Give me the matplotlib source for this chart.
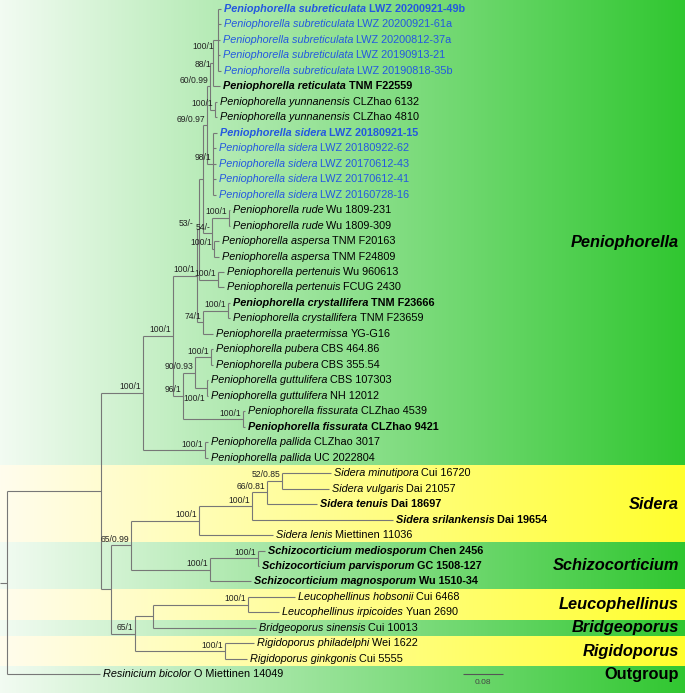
import numpy as np
import matplotlib.pyplot as plt

plt.rcParams['font.family'] = ['Liberation Sans', 'DejaVu Sans']

# ---- internal nodes (parents listed before children), branch lengths in substitutions/site ----
node_id = ['root', 'I', 'P', 'Q', 'R', 'S53', 'X', 'T', 'A60', 'N88', 'SUB', 'YUN', 'SID',
           'N54', 'RUDE', 'ASP', 'PERT', 'N74', 'CRY', 'N96', 'N90', 'PUB', 'GUT', 'FIS', 'PAL',
           'N111', 'N65', 'SIDr', 'N100', 'N66', 'N52', 'SCH', 'MP', 'N65b', 'NLB', 'LEU', 'RIG']
node_parent = [None, 'root', 'I', 'P', 'Q', 'R', 'S53', 'X', 'T', 'A60', 'N88', 'A60', 'T',
               'X', 'N54', 'N54', 'S53', 'R', 'N74', 'Q', 'N96', 'N90', 'N90', 'N96', 'P',
               'I', 'N111', 'N65', 'SIDr', 'N100', 'N66', 'N65', 'SCH', 'N111', 'N65b', 'NLB', 'N65b']
node_len = [0.014, 0.188, 0.084, 0.060, 0.048, 0.004, 0.008, 0.008, 0.006, 0.006, 0.010, 0.010, 0.012,
            0.018, 0.034, 0.004, 0.038, 0.012, 0.050, 0.020, 0.024, 0.032, 0.024, 0.120, 0.124,
            0.020, 0.040, 0.136, 0.106, 0.030, 0.030, 0.158, 0.096, 0.048, 0.036, 0.190, 0.180]
node_support = ['', '', '100/1', '100/1', '100/1', '53/-', '', '69/0.97', '60/0.99', '88/1', '100/1', '100/1', '98/1',
                '54/-', '100/1', '100/1', '100/1', '74/1', '100/1', '96/1', '90/0.93', '100/1', '100/1', '100/1', '100/1',
                '', '65/0.99', '100/1', '100/1', '66/0.81', '52/0.85', '100/1', '100/1', '65/1', '', '100/1', '100/1']

# ---- tips, top to bottom ----
tip_genus = (['Peniophorella'] * 30 + ['Sidera'] * 5 + ['Schizocorticium'] * 3 +
             ['Leucophellinus'] * 2 + ['Bridgeoporus'] + ['Rigidoporus'] * 2 + ['Resinicium'])
tip_epithet = (['subreticulata'] * 5 + ['reticulata'] + ['yunnanensis'] * 2 + ['sidera'] * 5 +
               ['rude'] * 2 + ['aspersa'] * 2 + ['pertenuis'] * 2 + ['crystallifera'] * 2 +
               ['praetermissa'] + ['pubera'] * 2 + ['guttulifera'] * 2 + ['fissurata'] * 2 + ['pallida'] * 2 +
               ['minutipora', 'vulgaris', 'tenuis', 'srilankensis', 'lenis', 'mediosporum', 'parvisporum',
                'magnosporum', 'hobsonii', 'irpicoides', 'sinensis', 'philadelphi', 'ginkgonis', 'bicolor'])
tip_voucher = ['LWZ 20200921-49b', 'LWZ 20200921-61a', 'LWZ 20200812-37a', 'LWZ 20190913-21',
               'LWZ 20190818-35b', 'TNM F22559', 'CLZhao 6132', 'CLZhao 4810', 'LWZ 20180921-15',
               'LWZ 20180922-62', 'LWZ 20170612-43', 'LWZ 20170612-41', 'LWZ 20160728-16',
               'Wu 1809-231', 'Wu 1809-309', 'TNM F20163', 'TNM F24809', 'Wu 960613', 'FCUG 2430',
               'TNM F23666', 'TNM F23659', 'YG-G16', 'CBS 464.86', 'CBS 355.54', 'CBS 107303',
               'NH 12012', 'CLZhao 4539', 'CLZhao 9421', 'CLZhao 3017', 'UC 2022804',
               'Cui 16720', 'Dai 21057', 'Dai 18697', 'Dai 19654', 'Miettinen 11036',
               'Chen 2456', 'GC 1508-127', 'Wu 1510-34', 'Cui 6468', 'Yuan 2690', 'Cui 10013',
               'Wei 1622', 'Cui 5555', 'O Miettinen 14049']
tip_parent = ['SUB'] * 5 + ['N88'] + ['YUN'] * 2 + ['SID'] * 5 + ['RUDE'] * 2 + ['ASP'] * 2 + \
             ['PERT'] * 2 + ['CRY'] * 2 + ['N74'] + ['PUB'] * 2 + ['GUT'] * 2 + ['FIS'] * 2 + ['PAL'] * 2 + \
             ['N52', 'N52', 'N66', 'N100', 'SIDr', 'MP', 'MP', 'SCH', 'LEU', 'LEU', 'NLB', 'RIG', 'RIG', 'root']
tip_len = [0.006, 0.006, 0.004, 0.004, 0.006, 0.014, 0.004, 0.004, 0.008, 0.006, 0.006, 0.006, 0.006,
           0.002, 0.002, 0.010, 0.010, 0.012, 0.012, 0.004, 0.004, 0.020, 0.004, 0.004, 0.002, 0.002,
           0.004, 0.004, 0.006, 0.006, 0.098, 0.094, 0.100, 0.282, 0.148, 0.014, 0.002, 0.082,
           0.094, 0.062, 0.206, 0.058, 0.044, 0.186]
bold_tips = [0, 5, 8, 19, 27, 32, 33, 35, 36, 37]
blue_tips = [0, 1, 2, 3, 4, 8, 9, 10, 11, 12]

# ---- clade bands ----
group_name = ['Peniophorella', 'Sidera', 'Schizocorticium', 'Leucophellinus', 'Bridgeoporus', 'Rigidoporus', 'Outgroup']
group_first = [0, 30, 35, 38, 40, 41, 43]
group_last = [29, 34, 37, 39, 40, 42, 43]
group_italic = [True, True, True, True, True, True, False]

GREEN = ((0.95, 0.985, 0.95), (0.19, 0.78, 0.19))
YELLOW = ((1.0, 0.99, 0.93), (1.0, 1.0, 0.18))
LINE = '#777777'
BLUE = '#2458e0'

# hand nudges (points) for crowded support values
label_nudge = {'S53': (-3, 0), 'SUB': (-2, -9), 'N88': (0, -5), 'GUT': (0, -11.5)}

# ---- layout ----
fig = plt.figure(figsize=(6.85, 6.93), dpi=100)
ax = fig.add_axes([0, 0, 1, 1])
xmin, xmax = -0.014, 1.356
ytop, ybot = -0.58, 44.21
ax.set_xlim(xmin, xmax)
ax.set_ylim(ybot, ytop)
ax.axis('off')

# backgrounds
t = np.linspace(0, 1, 400)
for k in range(len(group_name)):
    lo, hi = GREEN if k % 2 == 0 else YELLOW
    grad = np.array([[np.array(lo) * (1 - v) + np.array(hi) * v for v in t]])
    top = ytop if k == 0 else group_first[k] - 0.5
    bot = ybot if k == len(group_name) - 1 else group_last[k] + 0.5
    ax.imshow(grad, extent=(xmin, xmax, bot, top), aspect='auto', interpolation='bilinear', zorder=0)
    yc = (group_first[k] + group_last[k]) / 2
    if k == 0:
        yc += 0.6
    ax.text(1.344, yc, group_name[k], ha='right', va='center', fontsize=11.8, fontweight='bold',
            fontstyle='italic' if group_italic[k] else 'normal', zorder=3)

# ---- compute positions ----
children = {n: [] for n in node_id}
for n, p in zip(node_id, node_parent):
    if p is not None:
        children[p].append(('n', n))
for i, p in enumerate(tip_parent):
    children[p].append(('t', i))

xpos = {}
for n, p, bl in zip(node_id, node_parent, node_len):
    xpos[n] = 0.0 if p is None else xpos[p] + bl
tip_x = [xpos[p] + bl for p, bl in zip(tip_parent, tip_len)]

ypos = {}
def get_y(kind, key):
    if kind == 't':
        return key
    if key not in ypos:
        ys = [get_y(k2, c) for k2, c in children[key]]
        ypos[key] = (min(ys) + max(ys)) / 2
    return ypos[key]
get_y('n', 'root')

lw = 0.8
# branches of internal nodes
for n, p, bl, sup in zip(node_id, node_parent, node_len, node_support):
    ys = [get_y(k2, c) for k2, c in children[n]]
    ax.vlines(xpos[n], min(ys), max(ys), color=LINE, lw=lw, zorder=2)
    x0 = xpos[p] if p is not None else xpos[n] - bl
    ax.hlines(ypos[n], x0, xpos[n], color=LINE, lw=lw, zorder=2)
    if sup:
        dx, dy = label_nudge.get(n, (0, 0))
        ax.annotate(sup, (xpos[n], ypos[n]), xytext=(-1.2 + dx, 1.0 + dy), textcoords='offset points',
                    ha='right', va='bottom', fontsize=6.2, color='#222222', zorder=3)

# tips
for i in range(len(tip_genus)):
    p = tip_parent[i]
    ax.hlines(i, xpos[p], tip_x[i], color=LINE, lw=lw, zorder=2)
    col = BLUE if i in blue_tips else 'black'
    wt = 'bold' if i in bold_tips else 'normal'
    t1 = ax.annotate(f'{tip_genus[i]} {tip_epithet[i]}', (tip_x[i], i), xytext=(2, 0),
                     textcoords='offset points', ha='left', va='center', fontsize=7.8,
                     fontstyle='italic', fontweight=wt, color=col, zorder=3)
    ax.annotate(tip_voucher[i], xy=(1, 0), xycoords=t1, xytext=(2.2, 0), textcoords='offset points',
                ha='left', va='bottom', fontsize=7.8, fontweight=wt, color=col, zorder=3)

# scale bar
ax.hlines(43, 0.912, 0.992, color='#555555', lw=0.8, zorder=3)
ax.text(0.952, 43.55, '0.08', ha='center', va='center', fontsize=6, color='#444444', zorder=3)

fig.savefig('out.png', dpi=100)
